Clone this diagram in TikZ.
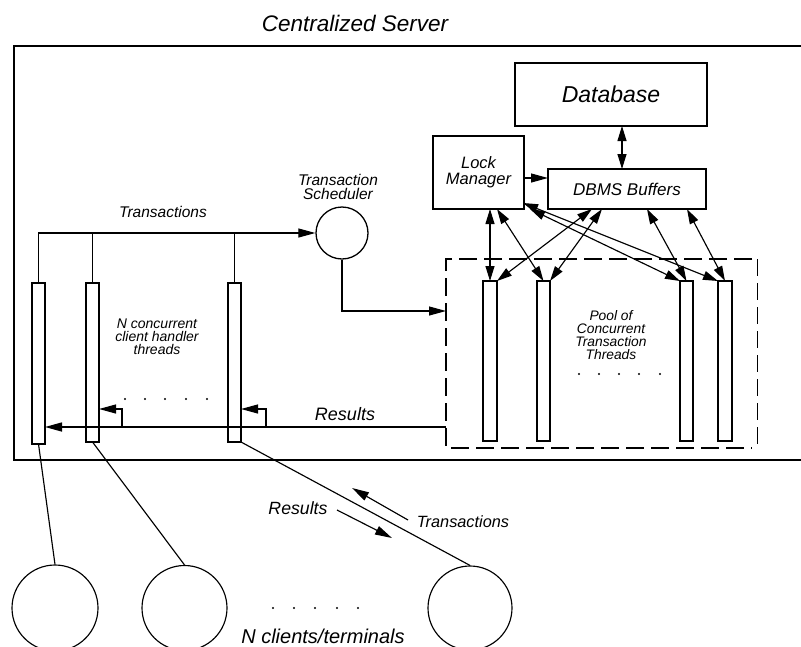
\documentclass[tikz,border=0pt]{standalone}
\usepackage{fontspec}
\setmainfont{Liberation Sans}
\usetikzlibrary{arrows.meta}
\newcommand{\myfont}[2]{\fontsize{#1}{#2}\selectfont\itshape}
\begin{document}
\begin{tikzpicture}[x=1pt,y=-1pt,
  ln/.style={line width=1.15pt},
  arr/.style={ln, -{Triangle[length=17pt,width=9pt]}},
  darr/.style={ln, {Triangle[length=15pt,width=9pt]}-{Triangle[length=15pt,width=9pt]}},
  thread/.style={draw, line width=1.4pt, inner sep=0pt, outer sep=0pt, minimum width=13pt},
  box/.style={draw, line width=1.5pt, inner sep=0pt, outer sep=0pt},
  lbl/.style={align=center, inner sep=0pt},
  dot/.style={fill=black}]
\clip (0,0) rectangle (801,646);
% title and server frame
\node[lbl, font=\myfont{22.5}{26}] (title) at (355,23) {Centralized Server};
\draw[line width=2pt] (801,46) -- (14,46) -- (14,460) -- (801,460);

% database side
\node[box, minimum width=192pt, minimum height=63pt, font=\myfont{23}{26}] (db) at (611,94.5) {Database};
\node[box, minimum width=91pt, minimum height=73pt, align=center, font=\myfont{16.5}{16}] (lm) at (478.5,172.5) {Lock\\Manager};
\node[box, minimum width=158pt, minimum height=40pt, font=\myfont{17}{20}] (dbms) at (627,189) {DBMS Buffers};

% client handler threads
\node[thread, minimum height=161pt] (c1) at (38.5,363.5) {};
\node[thread, minimum height=159pt] (c2) at (92.5,362.5) {};
\node[thread, minimum height=159pt] (c3) at (234.5,362.5) {};
\node[lbl, font=\myfont{14}{13}] (nconc) at (157,337) {N concurrent\\client handler\\threads};

% pool of transaction threads
\node[minimum width=311pt, minimum height=189pt, inner sep=0pt, outer sep=0pt] (pool) at (601.5,353.5) {};
\draw[line width=1.4pt, dash pattern=on 18pt off 7pt] ([xshift=-5pt]pool.north east) -- (pool.north west) -- (pool.south west) -- ([xshift=-5pt]pool.south east);
\draw[line width=0.6pt, dash pattern=on 17pt off 7pt] (pool.north east) -- (pool.south east);
\node[thread, minimum width=14pt, minimum height=160pt] (t1) at (490,361) {};
\node[thread, minimum height=160pt] (t2) at (543.5,361) {};
\node[thread, minimum height=160pt] (t3) at (686.5,361) {};
\node[thread, minimum width=14pt, minimum height=160pt] (t4) at (725,361) {};
\node[lbl, font=\myfont{13.8}{13}] (poollbl) at (611,335) {Pool of\\Concurrent\\Transaction\\Threads};
\foreach \x in {579,599,619,639,660} \fill[dot] (\x,374) circle (1.2pt);

% scheduler
\node[draw, circle, line width=1.3pt, minimum size=52pt, inner sep=0pt] (sched) at (342,233) {};
\node[lbl, font=\myfont{15.5}{14.5}] (schedlbl) at (338,187) {Transaction\\Scheduler};
\node[lbl, font=\myfont{15.5}{18}] (translbl) at (163,212) {Transactions};
\draw[arr] (c1.north) |- (sched.west);
\draw[ln] (c2.north) -- (c2.north |- sched.west);
\draw[ln] (c3.north) -- (c3.north |- sched.west);
\coordinate (poolin) at (446,311);
\draw[arr] (sched.south) |- (poolin);

% results back to client handlers
\coordinate (resout) at (446,427);
\coordinate (b2) at (122,427);
\coordinate (b3) at (266,427);
\draw[arr, line width=1.5pt] (resout) -- (c1.east |- resout);
\draw[arr] (b2) |- (c2.east |- 0,409);
\draw[arr] (b3) |- (c3.east |- 0,409);
\node[lbl, font=\myfont{18}{20}] (reslbl) at (345,414) {Results};
\foreach \x in {125,145,165,186,207} \fill[dot] (\x,399) circle (1.2pt);

% lock manager / buffers connectors
\draw[darr] (db.south -| 622,0) -- (dbms.north -| 622,0);
\draw[arr] (lm.east |- 0,178) -- (dbms.west |- 0,178);
\draw[darr] (lm.south -| t1.north) -- (t1.north);
\draw[darr] ([xshift=18.5pt]lm.south) -- (t2.north);
\coordinate (lmc1) at (523,203);
\coordinate (lmc2) at (530,209);
\draw[darr] (lmc1) -- (t4.north west);
\draw[darr] (lmc2) -- (t3.north west);
\draw[darr] ([xshift=-35pt]dbms.south) -- (t1.north east);
\draw[darr] ([xshift=-25pt]dbms.south) -- (t2.north east);
\draw[darr] ([xshift=20pt]dbms.south) -- (t3.north);
\draw[darr] ([xshift=60pt]dbms.south) -- (t4.north);

% clients
\node[draw, circle, ln, minimum size=86pt, inner sep=0pt] (cl1) at (55,608) {};
\node[draw, circle, ln, minimum size=85pt, inner sep=0pt] (cl2) at (184.5,608) {};
\node[draw, circle, ln, minimum size=84pt, inner sep=0pt] (cl3) at (470,608) {};
\draw[ln] (c1.south) -- (cl1.north);
\draw[ln] (c2.south) -- (cl2.north);
\draw[ln] (c3.south east) -- (cl3.north);
\foreach \x in {273,294,315,337,358} \fill[dot] (\x,608) circle (1.2pt);
\node[lbl, font=\myfont{20}{24}] (nclients) at (323,636) {N clients/terminals};
\node[lbl, font=\myfont{17.7}{20}] (res2) at (298,508) {Results};
\node[lbl, font=\myfont{16.3}{20}] (tr2) at (463,522) {Transactions};
\coordinate (ra) at (337,510);
\coordinate (rb) at (392,538);
\coordinate (ta) at (408,520);
\coordinate (tb) at (352,488);
\draw[arr] (ra) -- (rb);
\draw[arr] (ta) -- (tb);
\end{tikzpicture}
\end{document}
